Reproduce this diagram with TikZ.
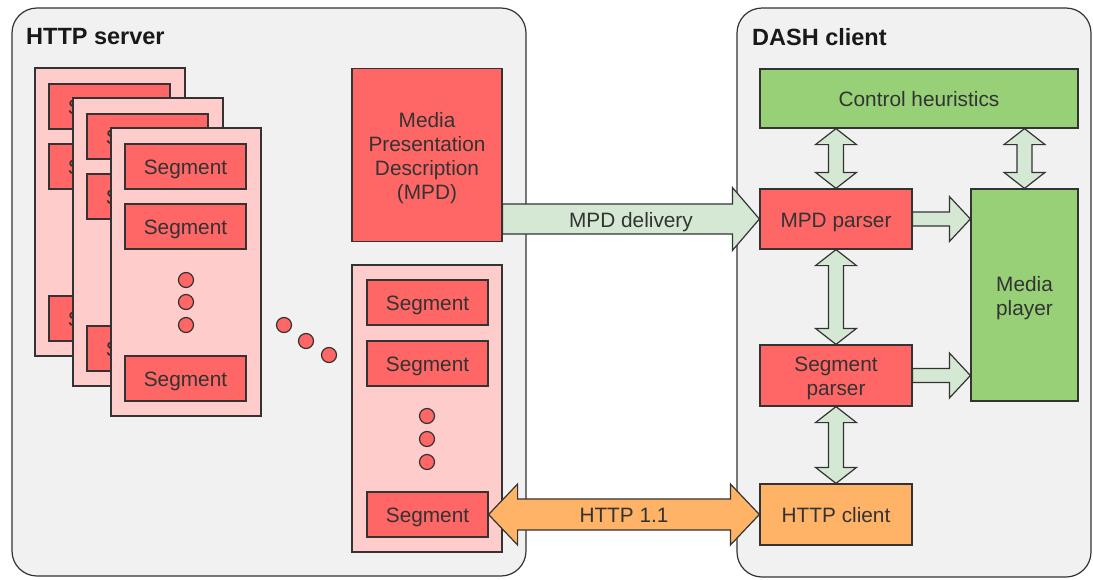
\documentclass[tikz,border=0pt]{standalone}
\usepackage{fontspec}
\setmainfont{Liberation Sans}
\usetikzlibrary{positioning,calc}
\definecolor{panelgray}{HTML}{F1F1F1}
\definecolor{segred}{HTML}{FF6666}
\definecolor{segpink}{HTML}{FFCCCC}
\definecolor{ctrlgreen}{HTML}{97D077}
\definecolor{arrowgreen}{HTML}{D5E8D4}
\definecolor{httporange}{HTML}{FFB366}
\definecolor{edge}{HTML}{333333}
% struts so that text sits in the middle of its box
\newcommand\tall{\rule{0pt}{21pt}}
\newcommand\deep{\rule[-5pt]{0pt}{5pt}}
\tikzset{
container/.style={rectangle,rounded corners=25pt,draw=edge,fill=panelgray,line width=1.2pt},
title/.style={anchor=west,inner sep=0pt,text=black!90,font=\bfseries\fontsize{23.5}{26}\selectfont},
store/.style={rectangle,draw=edge,fill=segpink,line width=1.2pt,minimum width=150pt},
box/.style={rectangle,draw=edge,line width=1.2pt,inner sep=0pt,align=center,text=black!80,
  font=\fontsize{20.8}{24}\selectfont,execute at begin node=\tall,execute at end node=\deep},
seg/.style={box,fill=segred,minimum width=121pt,minimum height=45pt},
dot/.style={circle,draw=edge,fill=segred,line width=1.2pt,minimum size=15pt,inner sep=0pt},
fat/.style={draw=edge,line width=1.2pt,line join=miter},
lbl/.style={inner sep=0pt,text=black!80,font=\fontsize{20.8}{24}\selectfont,
  execute at begin node=\tall,execute at end node=\deep}
}
% fat arrows, drawn between two points
\newcommand\fatright[6]{%
  \filldraw[fat,fill=#6] ($(#1)+(0,-#3)$) -- ($(#2)+(-#5,-#3)$) -- ($(#2)+(-#5,-#4)$) -- (#2)
    -- ($(#2)+(-#5,#4)$) -- ($(#2)+(-#5,#3)$) -- ($(#1)+(0,#3)$) -- cycle;}
\newcommand\fatboth[6]{%
  \filldraw[fat,fill=#6] ($(#1)+(#5,-#3)$) -- ($(#2)+(-#5,-#3)$) -- ($(#2)+(-#5,-#4)$) -- (#2)
    -- ($(#2)+(-#5,#4)$) -- ($(#2)+(-#5,#3)$) -- ($(#1)+(#5,#3)$) -- ($(#1)+(#5,#4)$) -- (#1)
    -- ($(#1)+(#5,-#4)$) -- cycle;}
\newcommand\fatupdown[6]{%
  \filldraw[fat,fill=#6] ($(#1)+(-#3,#5)$) -- ($(#2)+(-#3,-#5)$) -- ($(#2)+(-#4,-#5)$) -- (#2)
    -- ($(#2)+(#4,-#5)$) -- ($(#2)+(#3,-#5)$) -- ($(#1)+(#3,#5)$) -- ($(#1)+(#4,#5)$) -- (#1)
    -- ($(#1)+(-#4,#5)$) -- cycle;}
\begin{document}
\begin{tikzpicture}[x=1pt,y=-1pt]
\useasboundingbox (0,0) rectangle (1093,579);
% the two sides
\node[container,minimum width=514pt,minimum height=568pt] (server) at (269,292) {};
\node[container,minimum width=354pt,minimum height=569pt] (client) at (914,292.5) {};
\node[title] (srvtitle) at (26,37) {HTTP server};
\node[title] (clttitle) at (752,37) {DASH client};

% stacked representations
\foreach \i in {0,1,2}{
  \node[store,minimum height=288pt] (stack\i) at (110+38*\i,212+30*\i) {};
  \node[seg] (stack\i-a) at (109.5+38*\i,106.5+30*\i) {Segment};
  \node[seg] (stack\i-b) at (109.5+38*\i,166.5+30*\i) {Segment};
  \node[seg] (stack\i-c) at (109.5+38*\i,318.5+30*\i) {Segment};
  \foreach \d/\y in {1/220,2/242,3/265}
    \node[dot] (stack\i-dot\d) at (110+38*\i,\y+30*\i) {};
}
\node[dot] (gap1) at (284,325) {};
\node[dot] (gap2) at (306,341) {};
\node[dot] (gap3) at (329,355) {};

\node[box,fill=segred,minimum width=150pt,minimum height=173pt] (mpd) at (427,155)
  {\tall Media\\Presentation\\Description\\(MPD)\deep};
\node[store,minimum height=287pt] (last) at (427,408.5) {};
\node[seg] (last-a) at (427.5,302.5) {Segment};
\node[seg] (last-b) at (427.5,363.5) {Segment};
\node[dot] (last-dot1) at (427,416) {};
\node[dot] (last-dot2) at (427,439) {};
\node[dot] (last-dot3) at (427,462) {};
\node[seg] (last-c) at (427.5,514.5) {Segment};

% client side
\node[box,fill=ctrlgreen,minimum width=318pt,minimum height=59pt] (ctrl) at (919,98.5) {Control heuristics};
\node[box,fill=segred,minimum width=152pt,minimum height=60pt] (mpdparser) at (836,219) {MPD parser};
\node[box,fill=ctrlgreen,minimum width=107pt,minimum height=212pt] (player) at (1024.5,295) {\tall Media\\player\deep};
\node[box,fill=segred,minimum width=152pt,minimum height=61pt] (segparser) at (836,375.5) {\tall Segment\\parser\deep};
\node[box,fill=httporange,minimum width=152pt,minimum height=61pt] (httpclient) at (836,514.5) {HTTP client};

% arrows
\fatright{mpd.east |- mpdparser.west}{mpdparser.west}{15}{31.5}{27}{arrowgreen}
\node[lbl] (mpdlabel) at ($(mpd.east |- mpdparser.west)!.5!(mpdparser.west)$) {MPD delivery};
\fatboth{last-c.east}{httpclient.west}{15.5}{30.5}{29}{httporange}
\node[lbl] (httplabel) at ($(last-c.east)!.5!(httpclient.west)$) {HTTP 1.1};
\fatupdown{mpdparser.north |- ctrl.south}{mpdparser.north}{7.5}{20.5}{16}{arrowgreen}
\fatupdown{player.north |- ctrl.south}{player.north}{7.5}{20.5}{16}{arrowgreen}
\fatupdown{mpdparser.south}{segparser.north}{7.5}{20.5}{16}{arrowgreen}
\fatupdown{segparser.south}{httpclient.north}{7.5}{20.5}{16}{arrowgreen}
\fatright{mpdparser.east}{player.west |- mpdparser.east}{7}{22.5}{21}{arrowgreen}
\fatright{segparser.east}{player.west |- segparser.east}{7}{22.5}{21}{arrowgreen}
\end{tikzpicture}
\end{document}
